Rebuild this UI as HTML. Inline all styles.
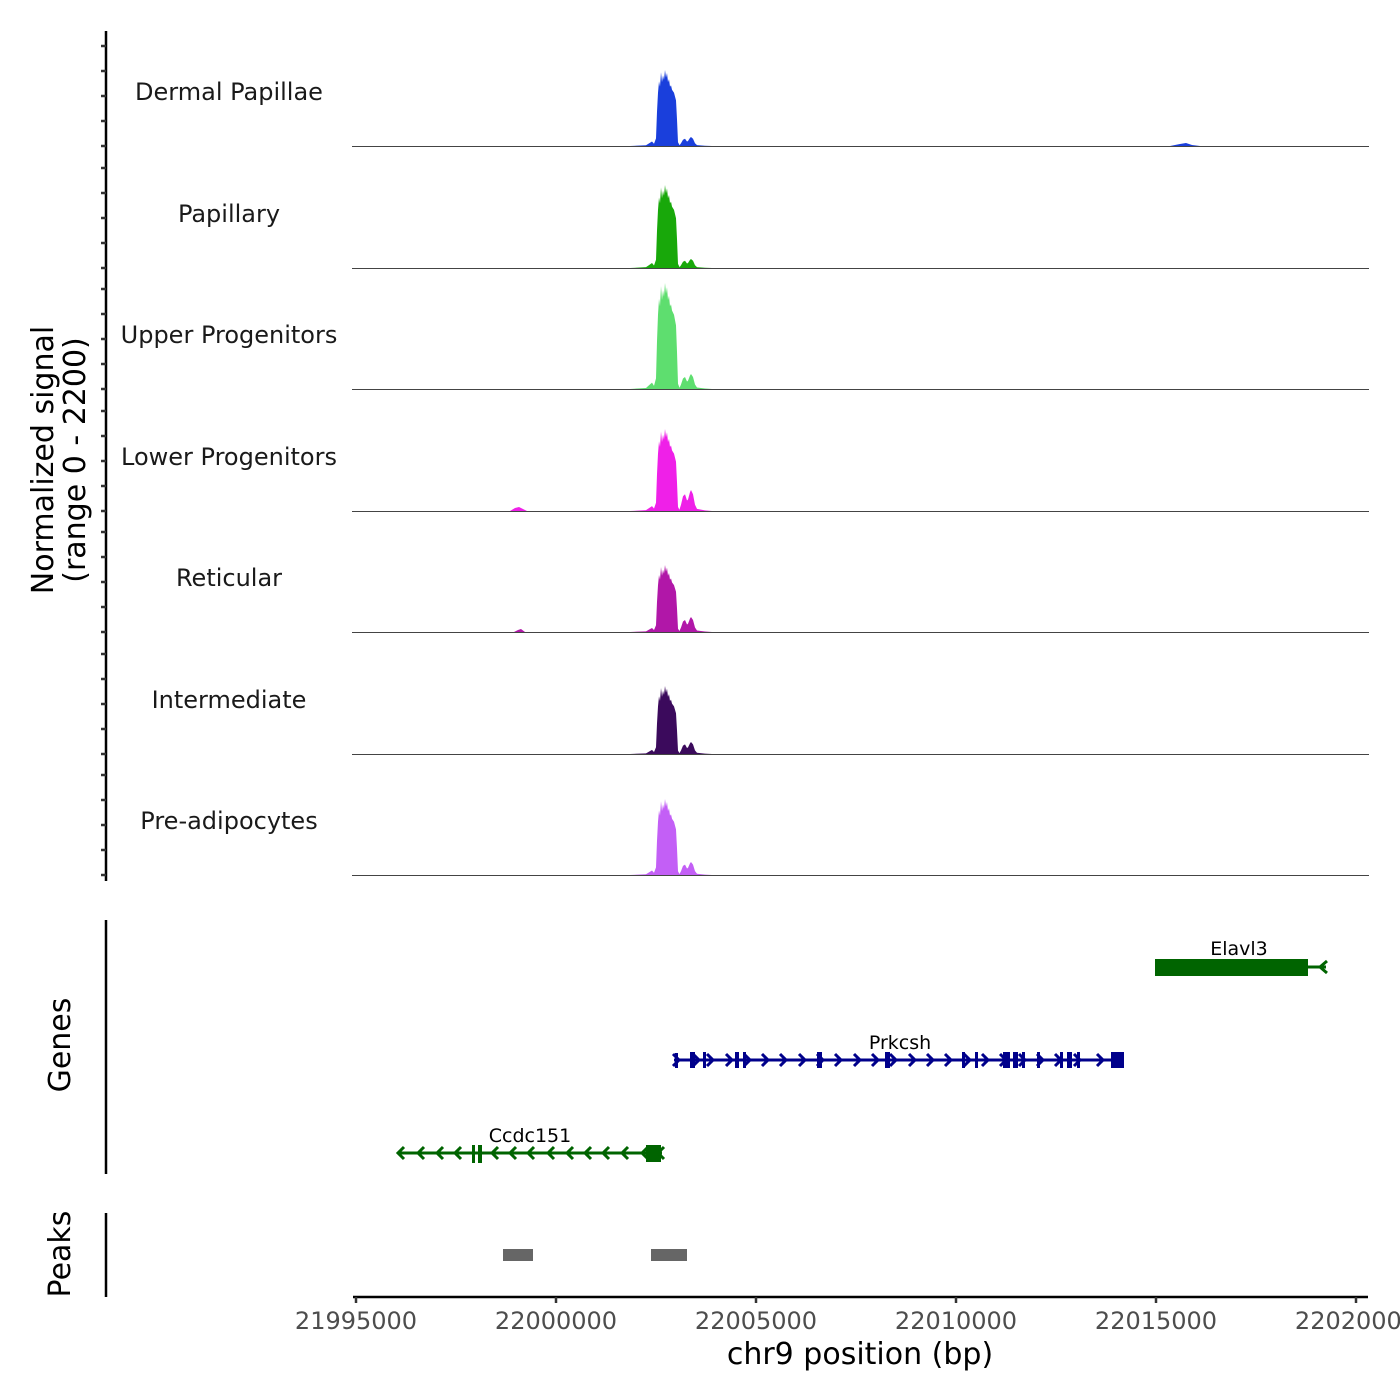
<!DOCTYPE html>
<html><head><meta charset="utf-8"><style>
html,body{margin:0;padding:0;background:#fff;}
svg{display:block;font-family:"DejaVu Sans","Liberation Sans",sans-serif;}
</style></head><body>
<svg width="1400" height="1400" viewBox="0 0 1400 1400" xmlns="http://www.w3.org/2000/svg">
<rect width="1400" height="1400" fill="#fff"/>
<defs>
<path id="pk" d="M630,0 L646,0.01 L649,0.035 L652,0.06 L654,0.03 L656,0.1 L657,0.45 L658,0.7 L659,0.85 L660,0.78 L661,0.97 L662,0.84 L663,0.93 L664,0.87 L665,1 L666,0.9 L667,0.96 L668,0.84 L669,0.88 L670,0.78 L671,0.8 L672,0.74 L674,0.7 L676,0.6 L677,0.35 L678,0.05 L680,0 Z"/>
<path id="bp" d="M679,0 L681,0.3 L683,0.7 L685,0.8 L687,0.5 L688,0.55 L690,0.9 L691,1 L693,0.8 L695,0.3 L697,0.1 L705,0.03 L712,0 Z"/>
</defs>

<!-- coverage tracks -->
<g>
<use href="#pk" fill="#1a3fdc" transform="translate(0,146) scale(1,-76)"/>
<use href="#bp" fill="#1a3fdc" transform="translate(0,146) scale(1,-9)"/>
<path d="M1170,146 L1180,144 L1186,143 L1192,145 L1200,146 Z" fill="#1a3fdc"/>
<line x1="352" y1="146.5" x2="1369" y2="146.5" stroke="#444" stroke-width="1"/>

<use href="#pk" fill="#18a80a" transform="translate(0,268) scale(1,-83)"/>
<use href="#bp" fill="#18a80a" transform="translate(0,268) scale(1,-9)"/>
<line x1="352" y1="268.5" x2="1369" y2="268.5" stroke="#444" stroke-width="1"/>

<use href="#pk" fill="#5ede6f" transform="translate(0,389) scale(1,-106)"/>
<use href="#bp" fill="#5ede6f" transform="translate(0,389) scale(1,-15)"/>
<line x1="352" y1="389.5" x2="1369" y2="389.5" stroke="#444" stroke-width="1"/>

<use href="#pk" fill="#ef20e8" transform="translate(0,511) scale(1,-82)"/>
<use href="#bp" fill="#ef20e8" transform="translate(0,511) scale(1,-21)"/>
<path d="M510,511 L515,508 L519,507 L523,509 L527,511 Z" fill="#ef20e8"/>
<line x1="352" y1="511.5" x2="1369" y2="511.5" stroke="#444" stroke-width="1"/>

<use href="#pk" fill="#b117a8" transform="translate(0,632) scale(1,-67)"/>
<use href="#bp" fill="#b117a8" transform="translate(0,632) scale(1,-15)"/>
<path d="M514,632 L518,630 L521,629 L525,632 Z" fill="#b117a8"/>
<line x1="352" y1="632.5" x2="1369" y2="632.5" stroke="#444" stroke-width="1"/>

<use href="#pk" fill="#3b0a5c" transform="translate(0,754) scale(1,-68)"/>
<use href="#bp" fill="#3b0a5c" transform="translate(0,754) scale(1,-12)"/>
<line x1="352" y1="754.5" x2="1369" y2="754.5" stroke="#444" stroke-width="1"/>

<use href="#pk" fill="#c35ff6" transform="translate(0,875) scale(1,-76)"/>
<use href="#bp" fill="#c35ff6" transform="translate(0,875) scale(1,-13)"/>
<line x1="352" y1="875.5" x2="1369" y2="875.5" stroke="#444" stroke-width="1"/>
</g>

<!-- track labels -->
<g font-size="24" fill="#1a1a1a" text-anchor="middle">
<text x="229" y="100">Dermal Papillae</text>
<text x="229" y="222">Papillary</text>
<text x="229" y="343">Upper Progenitors</text>
<text x="229" y="465">Lower Progenitors</text>
<text x="229" y="586">Reticular</text>
<text x="229" y="708">Intermediate</text>
<text x="229" y="829">Pre-adipocytes</text>
</g>

<!-- left axis coverage -->
<line x1="106" y1="31" x2="106" y2="881" stroke="#000" stroke-width="2.5"/>
<g stroke="#333" stroke-width="2.5">
<line x1="101" y1="46" x2="106" y2="46"/><line x1="101" y1="71" x2="106" y2="71"/><line x1="101" y1="96" x2="106" y2="96"/><line x1="101" y1="121" x2="106" y2="121"/><line x1="101" y1="146" x2="106" y2="146"/>
<line x1="101" y1="168" x2="106" y2="168"/><line x1="101" y1="193" x2="106" y2="193"/><line x1="101" y1="218" x2="106" y2="218"/><line x1="101" y1="243" x2="106" y2="243"/><line x1="101" y1="268" x2="106" y2="268"/>
<line x1="101" y1="289" x2="106" y2="289"/><line x1="101" y1="314" x2="106" y2="314"/><line x1="101" y1="339" x2="106" y2="339"/><line x1="101" y1="364" x2="106" y2="364"/><line x1="101" y1="389" x2="106" y2="389"/>
<line x1="101" y1="411" x2="106" y2="411"/><line x1="101" y1="436" x2="106" y2="436"/><line x1="101" y1="461" x2="106" y2="461"/><line x1="101" y1="486" x2="106" y2="486"/><line x1="101" y1="511" x2="106" y2="511"/>
<line x1="101" y1="532" x2="106" y2="532"/><line x1="101" y1="557" x2="106" y2="557"/><line x1="101" y1="582" x2="106" y2="582"/><line x1="101" y1="607" x2="106" y2="607"/><line x1="101" y1="632" x2="106" y2="632"/>
<line x1="101" y1="654" x2="106" y2="654"/><line x1="101" y1="679" x2="106" y2="679"/><line x1="101" y1="704" x2="106" y2="704"/><line x1="101" y1="729" x2="106" y2="729"/><line x1="101" y1="754" x2="106" y2="754"/>
<line x1="101" y1="775" x2="106" y2="775"/><line x1="101" y1="800" x2="106" y2="800"/><line x1="101" y1="825" x2="106" y2="825"/><line x1="101" y1="850" x2="106" y2="850"/><line x1="101" y1="875" x2="106" y2="875"/>
</g>
<g font-size="30" fill="#000" text-anchor="middle">
<text transform="translate(53,460) rotate(-90)">Normalized signal</text>
<text transform="translate(85,460) rotate(-90)">(range 0 - 2200)</text>
<text transform="translate(70,1045) rotate(-90)">Genes</text>
<text transform="translate(70,1254) rotate(-90)">Peaks</text>
</g>

<!-- Genes panel -->
<line x1="106" y1="920" x2="106" y2="1174" stroke="#000" stroke-width="2.5"/>
<g font-size="19" fill="#000" text-anchor="middle">
<text x="1239" y="955">Elavl3</text>
<text x="900" y="1049">Prkcsh</text>
<text x="530" y="1142">Ccdc151</text>
</g>
<!-- Elavl3 -->
<g stroke="#006400" fill="#006400">
<line x1="1155" y1="967" x2="1326" y2="967" stroke-width="3"/>
<rect x="1155" y="959" width="153" height="17" stroke="none"/>
<polyline points="1327,961 1320,967 1327,973" fill="none" stroke-width="3"/>
</g>
<!-- Prkcsh -->
<g stroke="#00008b" fill="#00008b">
<line x1="674" y1="1060" x2="1124" y2="1060" stroke-width="3"/>
<g stroke="none">
<rect x="675" y="1053" width="3" height="15"/>
<rect x="690" y="1052" width="5" height="16"/>
<rect x="703" y="1052" width="3" height="16"/>
<rect x="735" y="1052" width="4" height="16"/>
<rect x="743" y="1052" width="3" height="16"/>
<rect x="817" y="1052" width="5" height="16"/>
<rect x="885" y="1052" width="5" height="16"/>
<rect x="962" y="1052" width="3" height="16"/>
<rect x="975" y="1052" width="3" height="16"/>
<rect x="1003" y="1052" width="7" height="16"/>
<rect x="1013" y="1052" width="5" height="16"/>
<rect x="1022" y="1052" width="3" height="16"/>
<rect x="1037" y="1052" width="3" height="16"/>
<rect x="1060" y="1052" width="3" height="16"/>
<rect x="1067" y="1052" width="5" height="16"/>
<rect x="1077" y="1052" width="3" height="16"/>
<rect x="1111" y="1052" width="13" height="16"/>
</g>
<g fill="none" stroke-width="3">
<polyline points="673,1054 679,1060 673,1066"/>
<polyline points="693,1054 699,1060 693,1066"/>
<polyline points="707,1054 713,1060 707,1066"/>
<polyline points="726,1054 732,1060 726,1066"/>
<polyline points="744,1054 750,1060 744,1066"/>
<polyline points="762,1054 768,1060 762,1066"/>
<polyline points="780,1054 786,1060 780,1066"/>
<polyline points="799,1054 805,1060 799,1066"/>
<polyline points="817,1054 823,1060 817,1066"/>
<polyline points="835,1054 841,1060 835,1066"/>
<polyline points="854,1054 860,1060 854,1066"/>
<polyline points="872,1054 878,1060 872,1066"/>
<polyline points="890,1054 896,1060 890,1066"/>
<polyline points="909,1054 915,1060 909,1066"/>
<polyline points="927,1054 933,1060 927,1066"/>
<polyline points="945,1054 951,1060 945,1066"/>
<polyline points="964,1054 970,1060 964,1066"/>
<polyline points="982,1054 988,1060 982,1066"/>
<polyline points="1000,1054 1006,1060 1000,1066"/>
<polyline points="1019,1054 1025,1060 1019,1066"/>
<polyline points="1037,1054 1043,1060 1037,1066"/>
<polyline points="1055,1054 1061,1060 1055,1066"/>
<polyline points="1074,1054 1080,1060 1074,1066"/>
<polyline points="1097,1054 1103,1060 1097,1066"/>
</g>
</g>
<!-- Ccdc151 -->
<g stroke="#006400" fill="#006400">
<line x1="398" y1="1153" x2="662" y2="1153" stroke-width="3"/>
<g stroke="none">
<rect x="472" y="1145" width="3" height="18"/>
<rect x="478" y="1145" width="4" height="18"/>
<rect x="646" y="1145" width="15" height="17"/>
</g>
<g fill="none" stroke-width="3">
<polyline points="404,1147 398,1153 404,1159"/>
<polyline points="424,1147 418,1153 424,1159"/>
<polyline points="443,1147 437,1153 443,1159"/>
<polyline points="461,1147 455,1153 461,1159"/>
<polyline points="498,1147 492,1153 498,1159"/>
<polyline points="516,1147 510,1153 516,1159"/>
<polyline points="534,1147 528,1153 534,1159"/>
<polyline points="554,1147 548,1153 554,1159"/>
<polyline points="573,1147 567,1153 573,1159"/>
<polyline points="591,1147 585,1153 591,1159"/>
<polyline points="609,1147 603,1153 609,1159"/>
<polyline points="628,1147 622,1153 628,1159"/>
<polyline points="648,1147 642,1153 648,1159"/>
<polyline points="664,1147 658,1153 664,1159"/>
</g>
</g>

<!-- Peaks panel -->
<line x1="106" y1="1213" x2="106" y2="1297" stroke="#000" stroke-width="2.5"/>
<rect x="503" y="1249" width="30" height="12" fill="#666"/>
<rect x="651" y="1249" width="36" height="12" fill="#666"/>

<!-- x axis -->
<line x1="353" y1="1297" x2="1368" y2="1297" stroke="#000" stroke-width="2.5"/>
<g stroke="#333" stroke-width="2.5">
<line x1="356" y1="1297" x2="356" y2="1303"/>
<line x1="556" y1="1297" x2="556" y2="1303"/>
<line x1="756" y1="1297" x2="756" y2="1303"/>
<line x1="956" y1="1297" x2="956" y2="1303"/>
<line x1="1156" y1="1297" x2="1156" y2="1303"/>
<line x1="1356" y1="1297" x2="1356" y2="1303"/>
</g>
<g font-size="24" fill="#4d4d4d" text-anchor="middle">
<text x="356" y="1329">21995000</text>
<text x="556" y="1329">22000000</text>
<text x="756" y="1329">22005000</text>
<text x="956" y="1329">22010000</text>
<text x="1156" y="1329">22015000</text>
<text x="1356" y="1329">22020000</text>
</g>
<text x="860" y="1364" font-size="30" fill="#000" text-anchor="middle">chr9 position (bp)</text>
</svg>
</body></html>
